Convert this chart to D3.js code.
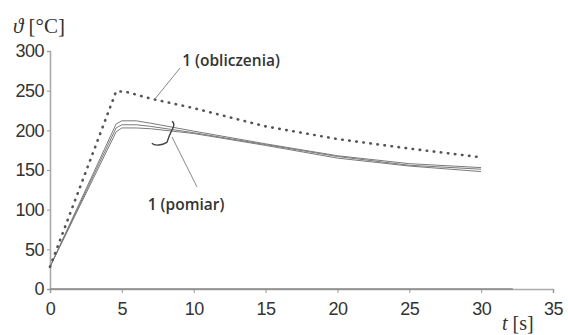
<!DOCTYPE html>
<html><head><meta charset="utf-8">
<script src="https://cdn.jsdelivr.net/npm/d3@7"></script>
<style>body{margin:0;background:#fff}svg{display:block}</style>
</head><body>
<svg id="c" width="568" height="335"></svg>
<script>
const xTicks = [0,5,10,15,20,25,30,35];
const yTicks = [0,50,100,150,200,250,300];
const tCalc = [0, 4.6, 5.2, 7, 10, 15, 20, 25, 30];
const calc  = [28, 249, 249, 240, 228, 205, 189, 177, 166];
const tMeas = [0, 4.6, 5, 6, 7, 10, 15, 20, 25, 30];
const meas1 = [28, 208, 212, 212, 209, 199, 183, 168, 158, 153];
const meas2 = [28, 203, 207, 207, 205, 197, 182, 167, 156, 151];
const meas3 = [28, 198, 203, 203, 202, 196, 181, 165, 155, 148];
const labelCalc = "1 (obliczenia)";
const labelMeas = "1 (pomiar)";

const svg = d3.select("#c");
const x = d3.scaleLinear().domain([0,35]).range([50,553]);
const y = d3.scaleLinear().domain([0,300]).range([289,51]);

// axes
const xa = svg.append("g").attr("transform",`translate(0,${y(0)})`)
  .call(d3.axisBottom(x).tickValues(xTicks).tickSize(4).tickPadding(9));
const ya = svg.append("g").attr("transform",`translate(${x(0)},0)`)
  .call(d3.axisLeft(y).tickValues(yTicks).tickSize(3).tickPadding(3));
[xa,ya].forEach(a=>{
  a.select(".domain").attr("stroke","#aaa").attr("stroke-width",1.6);
  a.selectAll(".tick line").attr("stroke","#999");
  a.selectAll(".tick text").attr("fill","#333").attr("font-family","Liberation Sans, Arial, sans-serif")
   .attr("font-size",18).attr("letter-spacing","-0.5");
});
svg.append("line").attr("x1",x(0)).attr("x2",x(32.2)).attr("y1",y(0)).attr("y2",y(0))
  .attr("stroke","#888").attr("stroke-width",1.6);

const line = d3.line();
[meas1,meas2,meas3].forEach(s=>{
  svg.append("path").attr("d",line(s.map((v,i)=>[x(tMeas[i]),y(v)])))
    .attr("fill","none").attr("stroke","#7a7a7a").attr("stroke-width",1);
});
svg.append("path").attr("d",line(calc.map((v,i)=>[x(tCalc[i]),y(v)])))
  .attr("fill","none").attr("stroke","#555").attr("stroke-width",2.6)
  .attr("stroke-dasharray","0.5 6.6").attr("stroke-linecap","round");

// annotations
svg.append("line").attr("x1",x(9.05)).attr("y1",y(278.6)).attr("x2",x(7.3)).attr("y2",y(239.4))
  .attr("stroke","#888").attr("stroke-width",1);
svg.append("line").attr("x1",x(10.23)).attr("y1",y(128.6)).attr("x2",x(8.49)).attr("y2",y(191.6))
  .attr("stroke","#888").attr("stroke-width",1);
const bx = x(8.34), by = y(197.5);
svg.append("path")
  .attr("d",`M${bx+2},${by-11} C${bx+6},${by-9} ${bx+3},${by-4} ${bx+1},${by} C${bx-1},${by+4} ${bx-2},${by+8} ${bx-3},${by+10} C${bx-8},${by+13} ${bx-15},${by+14} ${bx-18},${by+11}`)
  .attr("fill","none").attr("stroke","#444").attr("stroke-width",1.4);

const af = "Open Sans, sans-serif";
svg.append("text").attr("x",x(9.2)).attr("y",66).text(labelCalc)
  .attr("font-family",af).attr("font-size",15.5).attr("font-weight",600).attr("fill","#333");
svg.append("text").attr("x",x(6.8)).attr("y",210).text(labelMeas)
  .attr("font-family",af).attr("font-size",15.5).attr("font-weight",600).attr("fill","#333");

// axis titles
const yt = svg.append("text").attr("x",13).attr("y",33).attr("font-family","Liberation Serif, serif")
  .attr("font-size",21).attr("fill","#333");
yt.append("tspan").attr("font-style","italic").text("ϑ");
yt.append("tspan").text(" [°C]");
const xt = svg.append("text").attr("x",502).attr("y",330).attr("font-family","Liberation Serif, serif")
  .attr("font-size",20).attr("fill","#333");
xt.append("tspan").attr("font-style","italic").text("t");
xt.append("tspan").text(" [s]");
</script>
</body></html>
